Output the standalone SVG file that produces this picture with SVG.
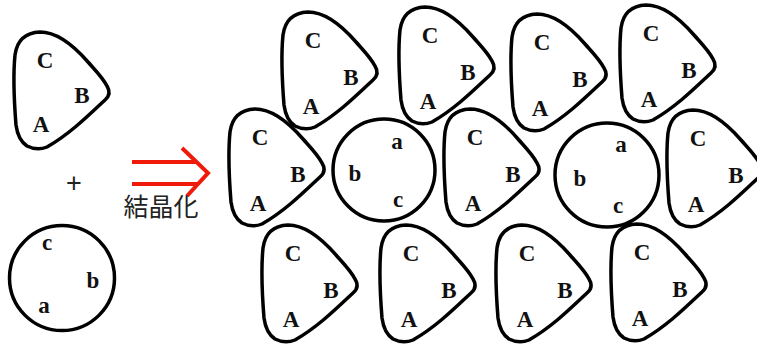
<svg xmlns="http://www.w3.org/2000/svg" xmlns:xlink="http://www.w3.org/1999/xlink" width="757" height="345" viewBox="0 0 757 345">
<style>
.sh{fill:none;stroke:#000;stroke-width:3.5;stroke-linejoin:round}
.L{font-family:"Liberation Serif","Times New Roman",serif;font-weight:bold;font-size:23px;fill:#111;text-anchor:middle}
.l{font-family:"Liberation Serif","Times New Roman",serif;font-weight:bold;font-size:23px;fill:#111;text-anchor:middle}
.arr{fill:none;stroke:#f01a0a;stroke-width:4;stroke-linecap:butt}
.jp{font-family:"Noto Sans CJK JP","Noto Sans CJK SC",sans-serif;font-size:25px;fill:#222;text-anchor:middle}
.plus{font-family:"Liberation Sans",Arial,sans-serif;font-size:27px;fill:#222;text-anchor:middle}
</style>
<defs>
<path id="tri" d="M -5,-28 C 12,-28 30,-13 43,2 C 51,11 58,18 62,26 Q 67,34 60,40 C 45,54 25,74 2,87 Q -8,91 -18,86 Q -27,80 -29,65 C -31,40 -32,15 -30,-5 Q -27,-27 -5,-28 Z"/>
<g id="triL">
<use xlink:href="#tri" href="#tri" class="sh"/>
<text class="L" x="0" y="8">C</text>
<text class="L" x="38" y="45">B</text>
<text class="L" x="-2" y="74">A</text>
</g>
</defs>

<g id="molecule-ABC">
<use xlink:href="#tri" href="#tri" class="sh" transform="translate(45,60)"/>
<text class="L" x="45" y="68">C</text>
<text class="L" x="82" y="103">B</text>
<text class="L" x="41" y="132">A</text>
</g>

<g id="plus"><text class="plus" x="74" y="192">+</text></g>

<g id="molecule-abc">
<circle class="sh" cx="62" cy="278" r="52.5"/>
<text class="l" x="47" y="250">c</text>
<text class="l" x="93" y="288">b</text>
<text class="l" x="44" y="313">a</text>
</g>

<g id="connectors">
<line class="arr" x1="132" y1="162" x2="197" y2="162"/>
<line class="arr" x1="132" y1="184" x2="197" y2="184"/>
<polyline class="arr" points="182,148 208,173 187,196" stroke-width="3"/>
</g>
<g id="label-crystallize"><text class="jp" x="161" y="216">結晶化</text></g>

<g id="t1" transform="translate(313,40)"><use xlink:href="#triL" href="#triL"/></g>
<g id="t2" transform="translate(430,35)"><use xlink:href="#triL" href="#triL"/></g>
<g id="t3" transform="translate(542,42)"><use xlink:href="#triL" href="#triL"/></g>
<g id="t4" transform="translate(651,33)"><use xlink:href="#triL" href="#triL"/></g>
<g id="t5" transform="translate(260,137)"><use xlink:href="#triL" href="#triL"/></g>
<g id="t6" transform="translate(475,137)"><use xlink:href="#triL" href="#triL"/></g>
<g id="t7" transform="translate(698,138)"><use xlink:href="#triL" href="#triL"/></g>
<g id="t8" transform="translate(293,253)"><use xlink:href="#triL" href="#triL"/></g>
<g id="t9" transform="translate(411,253)"><use xlink:href="#triL" href="#triL"/></g>
<g id="t10" transform="translate(527,253)"><use xlink:href="#triL" href="#triL"/></g>
<g id="t11" transform="translate(642,252)"><use xlink:href="#triL" href="#triL"/></g>

<g id="c1">
<circle class="sh" cx="384" cy="170" r="51"/>
<text class="l" x="397" y="149">a</text>
<text class="l" x="355" y="181">b</text>
<text class="l" x="398" y="207">c</text>
</g>
<g id="c2">
<circle class="sh" cx="607" cy="175" r="52"/>
<text class="l" x="621" y="152">a</text>
<text class="l" x="580" y="186">b</text>
<text class="l" x="618" y="213">c</text>
</g>
</svg>
